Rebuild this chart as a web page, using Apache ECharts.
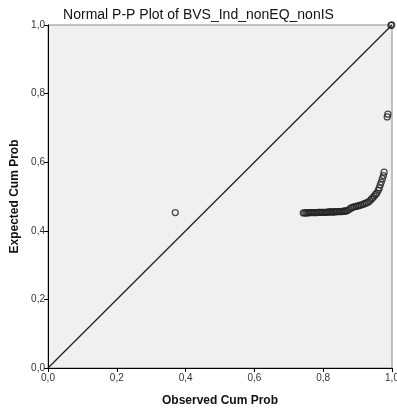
<!DOCTYPE html>
<html><head><meta charset="utf-8">
<script src="https://cdn.jsdelivr.net/npm/echarts@6/dist/echarts.min.js"></script>
<style>html,body{margin:0;padding:0;background:#fff}#c{width:397px;height:414px}</style>
</head><body><div id="c"></div>
<script>
var chartTitle = "Normal P-P Plot of BVS_Ind_nonEQ_nonIS";
var xAxisName = "Observed Cum Prob";
var yAxisName = "Expected Cum Prob";
var tickValues = [0, 0.2, 0.4, 0.6, 0.8, 1.0];
var observed = [0.370,
  0.742,0.746,0.750,0.754,0.758,0.762,0.766,0.770,0.774,0.778,0.782,0.786,0.790,0.794,0.798,
  0.802,0.806,0.810,0.814,0.818,0.822,0.826,0.830,0.834,0.838,0.842,0.846,0.850,0.854,0.858,
  0.862,0.866,0.870,0.875,0.880,0.885,0.890,0.895,0.900,0.905,0.910,0.915,0.920,0.925,0.930,
  0.935,0.940,0.944,0.948,0.952,0.956,0.960,0.963,0.966,0.969,0.972,0.975,0.977,
  0.986,0.988,0.997,0.999];
var expected = [0.453,
  0.452,0.452,0.452,0.452,0.453,0.453,0.453,0.453,0.453,0.453,0.453,0.454,0.454,0.454,0.454,
  0.454,0.454,0.454,0.455,0.455,0.455,0.455,0.455,0.455,0.456,0.456,0.456,0.456,0.456,0.457,
  0.457,0.458,0.459,0.462,0.466,0.468,0.470,0.471,0.472,0.474,0.475,0.477,0.479,0.481,0.483,
  0.487,0.492,0.496,0.501,0.506,0.510,0.518,0.525,0.534,0.542,0.552,0.561,0.571,
  0.732,0.740,0.999,1.000];
var refLine = [[0, 0], [1, 1]];

var pts = observed.map(function (x, i) { return [x, expected[i]]; });
var fmt = function (v) { return v.toFixed(1).replace('.', ','); };
var chart = echarts.init(document.getElementById('c'), null, {renderer: 'canvas'});
chart.setOption({
  animation: false,
  backgroundColor: '#ffffff',
  title: {
    text: chartTitle, left: 'center', top: 3,
    textStyle: {fontFamily: 'Liberation Sans, Arial', fontSize: 14, fontWeight: 'normal', color: '#111'}
  },
  grid: {left: 48, right: 5, top: 25, bottom: 46, outerBoundsMode: 'none', containLabel: false,
         show: true, backgroundColor: '#f0f0f0', borderColor: '#8a8a8a', borderWidth: 1},
  xAxis: {
    type: 'value', min: 0, max: 1, interval: 0.2,
    name: xAxisName, nameLocation: 'middle', nameGap: 27,
    nameTextStyle: {fontFamily: 'Liberation Sans, Arial', fontSize: 12, fontWeight: 'bold', color: '#111'},
    axisLine: {show: true, onZero: false, lineStyle: {color: '#000', width: 1}},
    axisTick: {show: true, length: 4, lineStyle: {color: '#000'}},
    axisLabel: {formatter: fmt, fontFamily: 'Liberation Sans, Arial', fontSize: 10, color: '#333', margin: 5},
    splitLine: {show: false}
  },
  yAxis: {
    type: 'value', min: 0, max: 1, interval: 0.2,
    name: yAxisName, nameLocation: 'middle', nameGap: 24, nameRotate: 90,
    nameTextStyle: {fontFamily: 'Liberation Sans, Arial', fontSize: 12, fontWeight: 'bold', color: '#111'},
    axisLine: {show: true, onZero: false, lineStyle: {color: '#000', width: 1}},
    axisTick: {show: true, length: 4, lineStyle: {color: '#000'}},
    axisLabel: {formatter: fmt, fontFamily: 'Liberation Sans, Arial', fontSize: 10, color: '#333', margin: 3},
    splitLine: {show: false}
  },
  series: [
    {type: 'line', data: refLine, symbol: 'none', lineStyle: {color: '#222', width: 1.3}, silent: true, z: 2},
    {type: 'scatter', data: pts, symbol: 'circle', symbolSize: 6,
     itemStyle: {color: 'rgba(0,0,0,0)', borderColor: '#222', borderWidth: 1.3}, z: 3}
  ]
});
</script></body></html>
